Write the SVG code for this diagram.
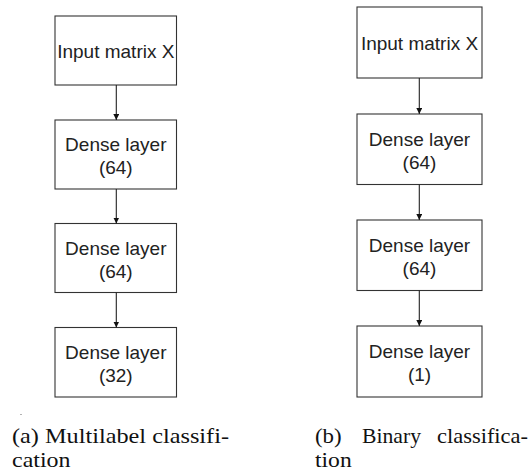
<svg xmlns="http://www.w3.org/2000/svg" width="529" height="471" viewBox="0 0 529 471">
  <style>
    .box { fill: #ffffff; stroke: #333333; stroke-width: 1.1; }
    .lbl { font-family: "Liberation Sans", Arial, sans-serif; font-size: 19px; fill: #222222; text-anchor: middle; }
    .edge { stroke: #222222; stroke-width: 1.1; fill: none; marker-end: url(#arrow); }
    .cap { font-family: "Liberation Serif", "Times New Roman", serif; font-size: 21px; fill: #111111; }
  </style>
  <defs>
    <marker id="arrow" viewBox="0 0 8 8" refX="8" refY="4" markerWidth="6" markerHeight="6" markerUnits="userSpaceOnUse" orient="auto">
      <path d="M0,0 L8,4 L0,8 Z" fill="#111111"/>
    </marker>
  </defs>
  <rect width="529" height="471" fill="#ffffff"/>

  <!-- left network: multilabel -->
  <g id="a-input">
    <rect class="box" x="55" y="16" width="121.5" height="69"/>
    <text class="lbl" x="115.8" y="58.3">Input matrix X</text>
  </g>
  <g id="a-dense1">
    <rect class="box" x="55" y="120" width="121.5" height="69"/>
    <text class="lbl" x="115.8" y="151">Dense layer</text>
    <text class="lbl" x="115.8" y="174">(64)</text>
  </g>
  <g id="a-dense2">
    <rect class="box" x="55" y="223.5" width="121.5" height="69"/>
    <text class="lbl" x="115.8" y="254.5">Dense layer</text>
    <text class="lbl" x="115.8" y="277.5">(64)</text>
  </g>
  <g id="a-dense3">
    <rect class="box" x="55" y="327.5" width="121.5" height="69.5"/>
    <text class="lbl" x="115.8" y="358.5">Dense layer</text>
    <text class="lbl" x="115.8" y="381.5">(32)</text>
  </g>

  <!-- right network: binary -->
  <g id="b-input">
    <rect class="box" x="357" y="7" width="125" height="71"/>
    <text class="lbl" x="419.5" y="50">Input matrix X</text>
  </g>
  <g id="b-dense1">
    <rect class="box" x="357" y="114" width="125" height="70.5"/>
    <text class="lbl" x="419.5" y="145.5">Dense layer</text>
    <text class="lbl" x="419.5" y="168.5">(64)</text>
  </g>
  <g id="b-dense2">
    <rect class="box" x="357" y="220" width="125" height="70.5"/>
    <text class="lbl" x="419.5" y="251.5">Dense layer</text>
    <text class="lbl" x="419.5" y="274.5">(64)</text>
  </g>
  <g id="b-dense3">
    <rect class="box" x="357" y="326" width="125" height="71"/>
    <text class="lbl" x="419.5" y="357.5">Dense layer</text>
    <text class="lbl" x="419.5" y="380.5">(1)</text>
  </g>

  <g id="connectors">
    <line class="edge" x1="116.3" y1="85" x2="116.3" y2="120"/>
    <line class="edge" x1="116.3" y1="189" x2="116.3" y2="223.5"/>
    <line class="edge" x1="116.3" y1="292.5" x2="116.3" y2="327.5"/>
    <line class="edge" x1="419.3" y1="78" x2="419.3" y2="114"/>
    <line class="edge" x1="419.3" y1="184.5" x2="419.3" y2="220"/>
    <line class="edge" x1="419.3" y1="290.5" x2="419.3" y2="326"/>
  </g>

  <!-- captions -->
  <circle cx="21" cy="414.5" r="0.6" fill="#555555"/>
  <g id="caption-a">
    <text class="cap" x="12" y="443" textLength="217" lengthAdjust="spacingAndGlyphs">(a) Multilabel classifi-</text>
    <text class="cap" x="12" y="466.5" textLength="58.5" lengthAdjust="spacingAndGlyphs">cation</text>
  </g>
  <g id="caption-b">
    <text class="cap" x="315" y="443" textLength="26.7" lengthAdjust="spacingAndGlyphs">(b)</text>
    <text class="cap" x="362" y="443" textLength="59" lengthAdjust="spacingAndGlyphs">Binary</text>
    <text class="cap" x="437" y="443" textLength="91" lengthAdjust="spacingAndGlyphs">classifica-</text>
    <text class="cap" x="315" y="466.5" textLength="36.7" lengthAdjust="spacingAndGlyphs">tion</text>
  </g>
</svg>
